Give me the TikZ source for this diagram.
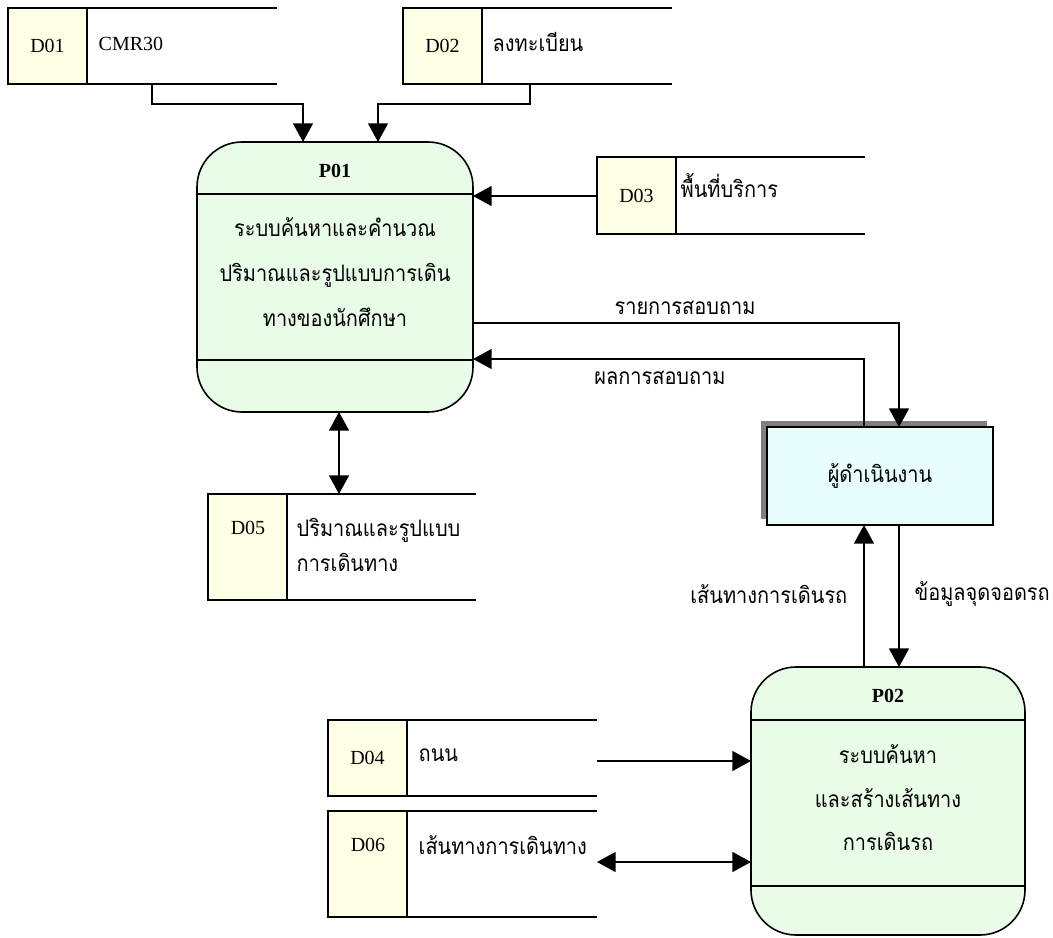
\documentclass[tikz,border=0pt]{standalone}
\usepackage{fontspec}
\setmainfont{Liberation Serif}
\newfontfamily\thai[Script=Thai,FakeStretch=0.88]{Loma}
\usetikzlibrary{arrows.meta,shadows}

\definecolor{storefill}{HTML}{FFFFE6}
\definecolor{procfill}{HTML}{E8FCE8}
\definecolor{actorfill}{HTML}{E8FDFD}
\definecolor{shadowgray}{HTML}{7F7F7F}

\tikzset{
  tip/.tip={Triangle[length=14pt,width=15pt]},
  flow/.style={line width=1.1pt, -tip},
  biflow/.style={line width=1.1pt, tip-tip},
  latin/.style={font=\fontsize{15}{17}\selectfont},
  thaitext/.style={font=\thai\fontsize{17}{26}\selectfont},
  storeid/.style={draw, line width=1.5pt, fill=storefill, anchor=north west,
    minimum width=59.25pt, inner sep=0pt, outer sep=0pt},
  storeline/.style={line width=1.5pt},
  proc/.style={draw, line width=1.2pt, fill=procfill, rounded corners=33.75pt,
    anchor=north west, minimum width=207pt, minimum height=202.5pt,
    inner sep=0pt, outer sep=0pt},
  divider/.style={line width=1.2pt},
  actorbox/.style={draw, line width=1.5pt, fill=actorfill, anchor=north west,
    minimum width=169.5pt, minimum height=73.5pt, inner sep=0pt, outer sep=0pt,
    general shadow={fill=shadowgray, shadow xshift=-4.5pt, shadow yshift=4.5pt}},
}

\begin{document}
\begin{tikzpicture}[x=0.75pt,y=-0.75pt]
\useasboundingbox (0,0) rectangle (1053,938);

% ---------- data stores ----------
\node[storeid, minimum height=57pt] (d01) at (8,8) {};
\node[latin] (d01t) at (d01.center) {D01};
\node[latin, anchor=west] (d01n) at (94,44) {CMR30};
\coordinate (d01e) at (277,8);
\draw[storeline] (d01.north east) -- (d01e);
\draw[storeline] (d01.south east) -- (d01e |- d01.south);

\node[storeid, minimum height=57pt] (d02) at (403,8) {};
\node[latin] (d02t) at (d02.center) {D02};
\node[thaitext, anchor=west] (d02n) at (488,42) {ลงทะเบียน};
\coordinate (d02e) at (672,8);
\draw[storeline] (d02.north east) -- (d02e);
\draw[storeline] (d02.south east) -- (d02e |- d02.south);

\node[storeid, minimum height=57.75pt] (d03) at (597,157) {};
\node[latin] (d03t) at (d03.center) {D03};
\node[thaitext, anchor=west] (d03n) at (676,186) {พื้นที่บริการ};
\coordinate (d03e) at (865,157);
\draw[storeline] (d03.north east) -- (d03e);
\draw[storeline] (d03.south east) -- (d03e |- d03.south);

\node[storeid, minimum height=79.5pt] (d05) at (208,494) {};
\node[latin] (d05t) at (248,528) {D05};
\node[thaitext, anchor=west, align=left] (d05n) at (292,545) {ปริมาณและรูปแบบ\\การเดินทาง};
\coordinate (d05e) at (476,494);
\draw[storeline] (d05.north east) -- (d05e);
\draw[storeline] (d05.south east) -- (d05e |- d05.south);

\node[storeid, minimum height=57pt] (d04) at (328,720) {};
\node[latin] (d04t) at (d04.center) {D04};
\node[thaitext, anchor=west] (d04n) at (414,755) {ถนน};
\coordinate (d04e) at (597,720);
\draw[storeline] (d04.north east) -- (d04e);
\draw[storeline] (d04.south east) -- (d04e |- d04.south);

\node[storeid, minimum height=79.5pt] (d06) at (328,811) {};
\node[latin] (d06t) at (368,845) {D06};
\node[thaitext, anchor=west] (d06n) at (414,845) {เส้นทางการเดินทาง};
\coordinate (d06e) at (597,811);
\draw[storeline] (d06.north east) -- (d06e);
\draw[storeline] (d06.south east) -- (d06e |- d06.south);

% ---------- processes ----------
\node[proc] (p01) at (197,142) {};
\draw[divider] (p01.west |- 0,194) -- (p01.east |- 0,194);
\draw[divider] (p01.west |- 0,360) -- (p01.east |- 0,360);
\node[font=\fontsize{15}{17}\selectfont\bfseries] (p01t) at (335,171) {P01};
\node[thaitext, align=center, font=\thai\fontsize{17}{33.75}\selectfont] (p01b) at (335,272)
  {ระบบค้นหาและคำนวณ\\ปริมาณและรูปแบบการเดิน\\ทางของนักศึกษา};

\node[proc, minimum width=205.5pt, minimum height=201pt] (p02) at (751,667) {};
\draw[divider] (p02.west |- 0,720) -- (p02.east |- 0,720);
\draw[divider] (p02.west |- 0,886) -- (p02.east |- 0,886);
\node[font=\fontsize{15}{17}\selectfont\bfseries] (p02t) at (888,696) {P02};
\node[thaitext, align=center, font=\thai\fontsize{17}{32.6}\selectfont] (p02b) at (888,798)
  {ระบบค้นหา\\และสร้างเส้นทาง\\การเดินรถ};

% ---------- external entity ----------
\node[actorbox] (act) at (767,427) {};
\node[thaitext] (actt) at (act.center) {ผู้ดำเนินงาน};

% ---------- flows ----------
\coordinate (d01out) at (152,84);
\coordinate (p01in1) at (303,142);
\draw[flow] (d01out) -- ++(0,20) -| (p01in1);

\coordinate (d02out) at (530,84);
\coordinate (p01in2) at (378,142);
\draw[flow] (d02out) -- ++(0,20) -| (p01in2);

\draw[flow] (d03.west |- 0,196) -- (p01.east |- 0,196);

\coordinate (actin) at (899,427);
\coordinate (actout) at (864,427);
\draw[flow] (p01.east |- 0,323) -| (actin);
\node[thaitext] (lq) at (685,308) {รายการสอบถาม};
\draw[flow] (actout) |- (p01.east |- 0,359);
\node[thaitext] (lr) at (660,378) {ผลการสอบถาม};

\coordinate (p01bot) at (339,412);
\draw[biflow] (p01bot) -- (p01bot |- d05.north);

\draw[flow] (p02.north -| actout) -- (act.south -| actout);
\draw[flow] (act.south -| actin) -- (p02.north -| actin);
\node[thaitext, anchor=east] (lroute) at (852,594) {เส้นทางการเดินรถ};
\node[thaitext, anchor=west] (lstop) at (910,594) {ข้อมูลจุดจอดรถ};

\coordinate (d04out) at (597,761);
\draw[flow] (d04out) -- (d04out -| p02.west);
\coordinate (d06out) at (597,862);
\draw[biflow] (d06out) -- (d06out -| p02.west);
\end{tikzpicture}
\end{document}
